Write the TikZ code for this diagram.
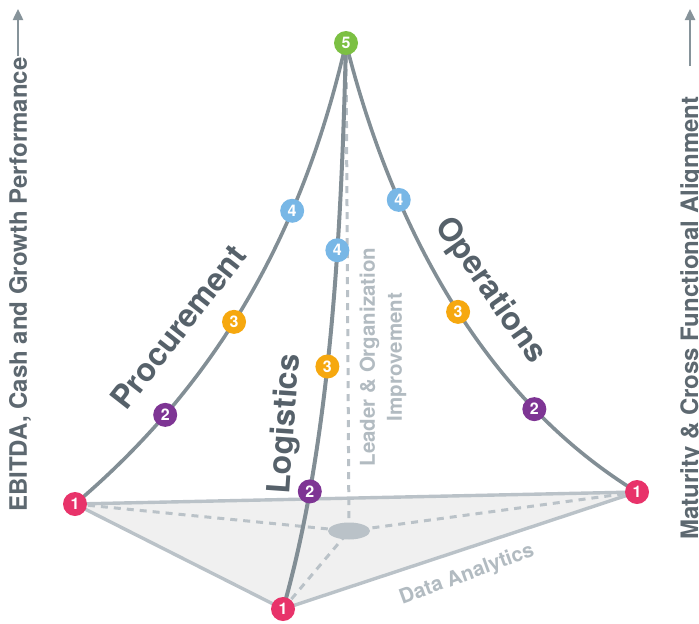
\documentclass[tikz,border=0pt]{standalone}
\usepackage{fontspec}
\setmainfont{TeX Gyre Heros}
\usetikzlibrary{arrows.meta,shapes.geometric}
\pgfdeclarelayer{bg}
\pgfsetlayers{bg,main}

\definecolor{redpt}{HTML}{E8336A}
\definecolor{purplept}{HTML}{7E3594}
\definecolor{orangept}{HTML}{F6A80F}
\definecolor{bluept}{HTML}{78B7E6}
\definecolor{greenpt}{HTML}{7CC043}
\definecolor{curvegray}{HTML}{828E95}
\definecolor{basegray}{HTML}{BAC2C8}
\definecolor{basefill}{HTML}{F0F0F0}
\definecolor{labeldark}{HTML}{56616A}
\definecolor{softgray}{HTML}{B2BBC1}
\definecolor{axisgray}{HTML}{5D6870}
\definecolor{arrowgray}{HTML}{86939A}

\begin{document}
\begin{tikzpicture}[x=1pt,y=-1pt,
  stage/.style={circle,fill=#1,inner sep=0pt,minimum size=24pt,text=white,
    font=\bfseries\fontsize{16}{16}\selectfont},
  pillaredge/.style={line width=3.6pt,draw=curvegray},
  baseedge/.style={line width=3.4pt,draw=basegray},
  basedash/.style={line width=3pt,draw=basegray,dash pattern=on 7pt off 6pt},
  pillar/.style={font=\bfseries\fontsize{32}{32}\selectfont,text=labeldark,inner sep=0pt},
  axislabel/.style={font=\bfseries\fontsize{24}{24}\selectfont,text=axisgray,inner sep=0pt},
  softlabel/.style={font=\bfseries\fontsize{20.5}{27}\selectfont,text=softgray,align=center,inner sep=0pt},
  axisarrow/.style={line width=2.4pt,draw=arrowgray,-{Triangle[length=11pt,width=10pt]}},
]
\useasboundingbox (0,0) rectangle (699,624);

% corners of the base and the apex
\node[stage=redpt] (l1) at (75,504) {1};
\node[stage=redpt] (r1) at (637,492) {1};
\node[stage=redpt] (b1) at (283,609) {1};
\node[stage=greenpt] (top) at (346,43) {5};
\node[ellipse,fill=basegray,inner sep=0pt,minimum width=42pt,minimum height=17pt] (hub) at (349,531) {};

% control points of the three pillar curves
\coordinate (lc1) at (245,360);
\coordinate (lc2) at (312,190);
\coordinate (rc1) at (385,200);
\coordinate (rc2) at (470,390);
\coordinate (gc1) at (334,432);
\coordinate (gc2) at (342,200);

\begin{pgfonlayer}{bg}
  % base of the pyramid
  \fill[basefill] (l1.center) -- (r1.center) -- (b1.center) -- cycle;
  \draw[basedash] (l1.center) -- (hub.center);
  \draw[basedash] (r1.center) -- (hub.center);
  \draw[basedash] (b1.center) -- (hub.center);
  \draw[basedash] (hub.center) -- (top.center);
  \draw[baseedge,line join=round] (l1.center) -- (r1.center) -- (b1.center) -- cycle;
  % pillars
  \draw[pillaredge] (l1.center) .. controls (lc1) and (lc2) .. (top.center);
  \draw[pillaredge] (top.center) .. controls (rc1) and (rc2) .. (r1.center);
  \draw[pillaredge,line width=4pt] (b1.center) .. controls (gc1) and (gc2) .. (top.center);
\end{pgfonlayer}

% stages along each pillar
\path (l1.center) .. controls (lc1) and (lc2) .. (top.center)
  node[stage=purplept,pos=.2] (p2) {2}
  node[stage=orangept,pos=.4] (p3) {3}
  node[stage=bluept,pos=.635] (p4) {4};
\path (top.center) .. controls (rc1) and (rc2) .. (r1.center)
  node[stage=bluept,pos=.32] (o4) {4}
  node[stage=orangept,pos=.55] (o3) {3}
  node[stage=purplept,pos=.77] (o2) {2};
\path (b1.center) .. controls (gc1) and (gc2) .. (top.center)
  node[stage=purplept,pos=.21] (g2) {2}
  node[stage=orangept,pos=.42] (g3) {3}
  node[stage=bluept,pos=.615] (g4) {4};

% pillar names
\node[pillar,rotate=52] (proc) at (178,327) {Procurement};
\node[pillar,rotate=-55] (ops) at (490,291) {Operations};
\node[pillar,rotate=86] (logi) at (286,424) {Logistics};

% inner labels
\node[softlabel,rotate=90] (lead) at (383,357) {Leader \& Organization\\Improvement};
\node[softlabel,rotate=20] (data) at (467,575) {Data Analytics};

% axes
\node[axislabel,rotate=90,anchor=base west] (ebitda) at (27,512) {EBITDA, Cash and Growth Performance};
\node[axislabel,rotate=90,anchor=base west] (maturity) at (698,540) {Maturity \& Cross Functional Alignment};
\coordinate (la0) at (18,56);
\coordinate (la1) at (18,9);
\coordinate (ra0) at (690,66);
\coordinate (ra1) at (690,9);
\draw[axisarrow] (la0) -- (la1);
\draw[axisarrow] (ra0) -- (ra1);
\end{tikzpicture}
\end{document}
